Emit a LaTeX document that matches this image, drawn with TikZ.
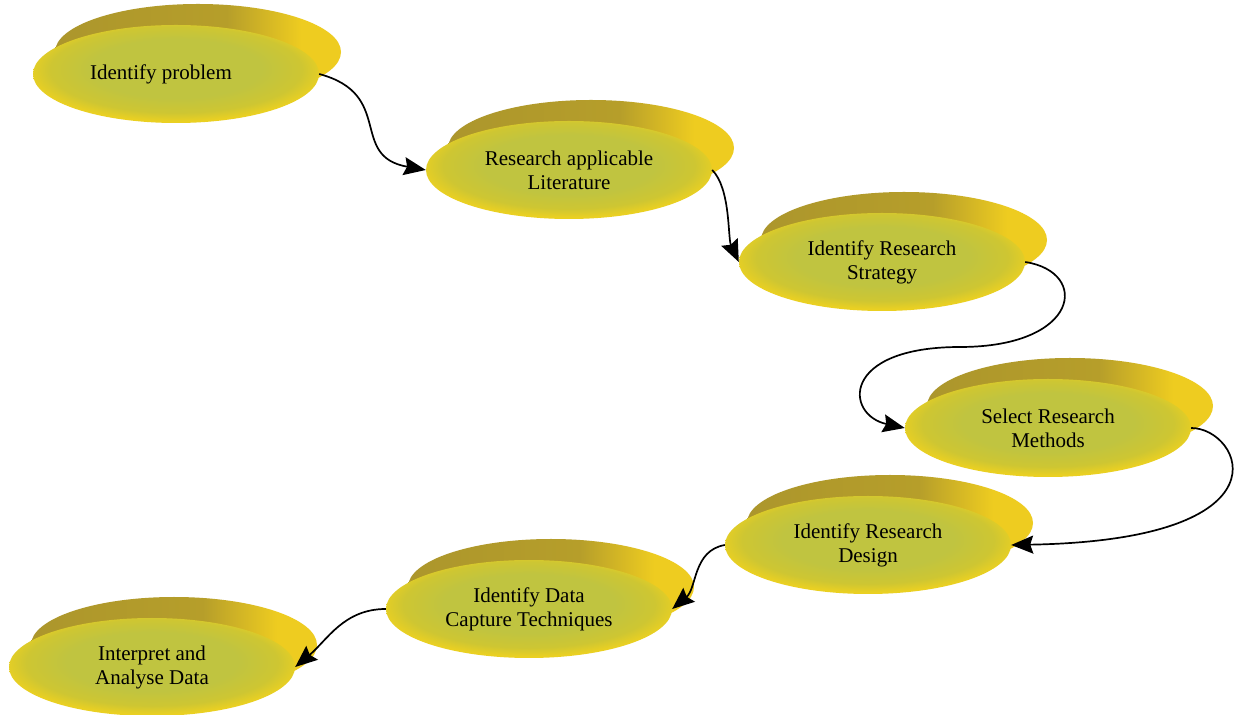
\documentclass[tikz,border=0pt]{standalone}
\usepackage{fontspec}
\setmainfont{Liberation Serif}
\usetikzlibrary{shapes.geometric,arrows.meta}

% disc colours
\definecolor{discmid}{RGB}{192,196,64}
\definecolor{discmidb}{RGB}{206,198,50}
\definecolor{discrim}{RGB}{234,208,34}
\definecolor{backdark}{RGB}{172,150,44}
\definecolor{backlight}{RGB}{238,204,32}

% front face of a disc: greenish centre fading to a yellow rim
% (the visible part of a shading is its middle 50bp square)
\pgfdeclareradialshading{discfront}{\pgfpoint{0bp}{4bp}}{%
  color(0bp)=(discmid); color(15bp)=(discmid); color(22bp)=(discmidb);
  color(26bp)=(discrim); color(50bp)=(discrim)}
% back face of a disc: olive on the left turning yellow at the right rim
\pgfdeclarehorizontalshading{discbackshade}{100bp}{%
  color(0bp)=(backdark); color(25bp)=(backdark); color(55bp)=(backdark!85!backlight);
  color(68bp)=(backlight); color(100bp)=(backlight)}

\begin{document}
\begin{tikzpicture}[x=1pt,y=1pt,
  labelfont/.style={font=\fontsize{21}{24}\selectfont, text=black, align=center},
  disc/.style={ellipse, minimum width=286pt, minimum height=98pt, inner sep=0pt,
    shade, shading=discfront, labelfont},
  discback/.style={ellipse, minimum width=286pt, minimum height=96pt, inner sep=0pt,
    shade, shading=discbackshade},
  flow/.style={line width=1.7pt, draw=black, -{Stealth[length=22pt,width=18pt,inset=3pt]}}]

\fill[white] (0,0) rectangle (1240,715);
\useasboundingbox (0,0) rectangle (1240,715);

% discs: back face first, then the labelled front face
\node[discback] (b1) at (198,663) {};
\node[disc, label={[labelfont, xshift=-15pt]center:Identify problem}] (n1) at (176,641) {};

\node[discback] (b2) at (591,567) {};
\node[disc] (n2) at (569,545) {Research applicable\\Literature};

\node[discback] (b3) at (904,475) {};
\node[disc] (n3) at (882,453) {Identify Research\\Strategy};

\node[discback] (b4) at (1070,309) {};
\node[disc] (n4) at (1048,287) {Select Research\\Methods};

\node[discback] (b5) at (890,192) {};
\node[disc] (n5) at (868,170) {Identify Research\\Design};

\node[discback] (b6) at (551,128) {};
\node[disc] (n6) at (529,106) {Identify Data\\Capture Techniques};

\node[discback] (b7) at (174,70) {};
\node[disc] (n7) at (152,48) {Interpret and\\Analyse Data};

% turning point of the loop between strategy and methods
\coordinate (c34) at (960,368);

% connectors
\draw[flow] (n1.east) to[out=-15,in=170,looseness=1.4] (n2.west);
\draw[flow] (n2.east) to[out=-45,in=115,looseness=0.7] (n3.west);
\draw[flow] (n3.east) .. controls +(65,-10) and +(120,0) .. (c34)
                     .. controls +(-120,0) and +(-60,13) .. (n4.west);
\draw[flow] (n4.east) .. controls +(50,0) and +(285,5) .. (n5.east);
\draw[flow] (n5.west) to[out=190,in=40] (n6.east);
\draw[flow] (n6.west) to[out=180,in=40] (n7.east);
\end{tikzpicture}
\end{document}
